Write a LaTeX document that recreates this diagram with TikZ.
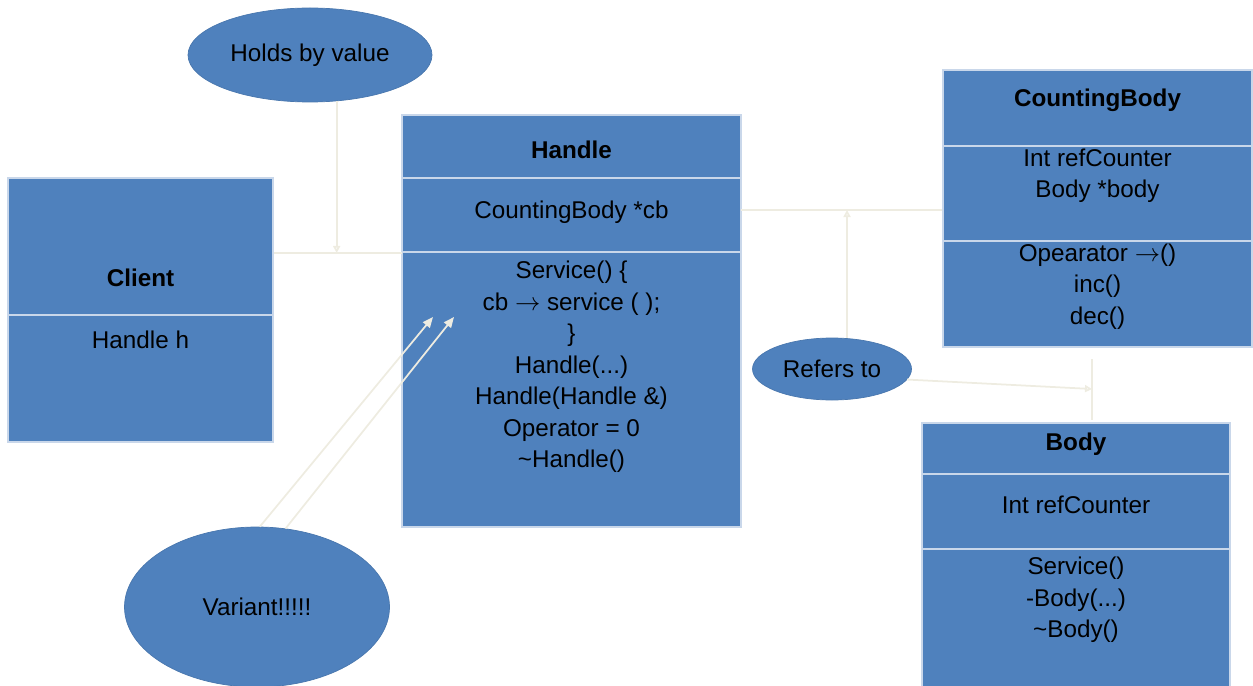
\documentclass[tikz,border=0pt]{standalone}
\usepackage{fontspec}
\setmainfont{Liberation Sans}
\usetikzlibrary{shapes.geometric, arrows.meta}

\definecolor{fuellblau}{HTML}{4F81BD}
\definecolor{randhell}{HTML}{C9D7EA}
\definecolor{linie}{HTML}{EEECE1}
\newcommand{\fs}{\fontsize{13.8}{17.9}\selectfont}

\tikzset{
  kasten/.style={draw=randhell, line width=0.6pt, fill=fuellblau, inner sep=0pt},
  oval/.style={ellipse, fill=fuellblau, draw=fuellblau!92!black, line width=0.4pt, inner sep=0pt, font=\fs},
  txt/.style={align=center, font=\fs, inner sep=0pt},
  titel/.style={txt, font=\fs\bfseries},
  trenn/.style={draw=randhell, line width=0.8pt},
  verb/.style={draw=linie, line width=1pt},
  spitze/.style={-{Triangle[open, length=4pt, width=4pt]}},
  pfeil/.style={-{Triangle[length=6pt, width=5pt]}}
}

\begin{document}
\begin{tikzpicture}
		\useasboundingbox (0,0) rectangle (25.06,13.7);
		
		% Klasse Client
		\node[kasten, minimum width=5.3cm, minimum height=5.28cm] (client) at (2.81,7.5) {};
		\draw[trenn] (0.16,7.4) -- (5.46,7.4);
		\node[titel] (clientname) at (2.81,8.14) {Client};
		\node[txt] (clientattr) at (2.81,6.9) {Handle h};
		
		% Klasse Handle
		\node[kasten, minimum width=6.78cm, minimum height=8.24cm] (handle) at (11.43,7.28) {};
		\draw[trenn] (8.04,10.14) -- (14.82,10.14);
		\draw[trenn] (8.04,8.66) -- (14.82,8.66);
		\node[titel] (handlename) at (11.43,10.7) {Handle};
		\node[txt] (handleattr) at (11.43,9.46) {CountingBody *cb};
		\node[txt] (handleops) at (11.43,6.36) {Service() \{\\cb $\rightarrow$ service ( );\\\}\\Handle(...)\\Handle(Handle \&)\\Operator = 0\\\textasciitilde Handle()};
		
		% Klasse CountingBody
		\node[kasten, minimum width=6.18cm, minimum height=5.54cm] (cbody) at (21.95,9.53) {};
		\draw[trenn] (18.86,10.78) -- (25.04,10.78);
		\draw[trenn] (18.86,8.88) -- (25.04,8.88);
		\node[titel] (cbodyname) at (21.95,11.7) {CountingBody};
		\node[txt] (cbodyattr) at (21.95,10.18) {Int refCounter\\Body *body};
		\node[txt] (cbodyops) at (21.95,7.97) {Opearator $\rightarrow$()\\inc()\\dec()};
		
		% Klasse Body
		\node[kasten, minimum width=6.16cm, minimum height=5.44cm] (body) at (21.52,2.52) {};
		\draw[trenn] (18.44,4.22) -- (24.6,4.22);
		\draw[trenn] (18.44,2.72) -- (24.6,2.72);
		\node[titel] (bodyname) at (21.52,4.82) {Body};
		\node[txt] (bodyattr) at (21.52,3.6) {Int refCounter};
		\node[txt] (bodyops) at (21.52,1.7) {Service()\\-Body(...)\\\textasciitilde Body()};
		
		% Ellipsen
		\node[oval, minimum width=4.88cm, minimum height=1.88cm] (holds) at (6.2,12.6) {Holds by value};
		\node[oval, minimum width=3.18cm, minimum height=1.24cm] (refers) at (16.64,6.32) {Refers to};
		\node[oval, minimum width=5.3cm, minimum height=3.2cm] (variant) at (5.14,1.56) {Variant!!!!!};
		
		% Verbindungen
		\coordinate (hsplit) at (8.04,8.64);
		\coordinate (cbl) at (14.82,9.5);
		\coordinate (cbb) at (21.84,6.52);
		\coordinate (bt) at (21.84,5.3);
		\coordinate (rj) at (21.84,5.92);
		\coordinate (va1) at (8.66,7.36);
		\coordinate (va2) at (9.08,7.36);
		\draw[verb] (hsplit -| client.east) -- (hsplit);
		\draw[verb, spitze] (holds.-60) -- (holds.-60 |- hsplit);
		\draw[verb] (cbl) -- (cbl -| cbody.west);
		\draw[verb, spitze] (refers.64) -- (refers.64 |- cbl);
		\draw[verb] (cbb) -- (bt);
		\draw[verb, spitze] (refers.-8) -- (rj);
		\draw[verb, pfeil] (variant.88) -- (va1);
		\draw[verb, pfeil] (variant.70) -- (va2);
	\end{tikzpicture}
\end{document}
